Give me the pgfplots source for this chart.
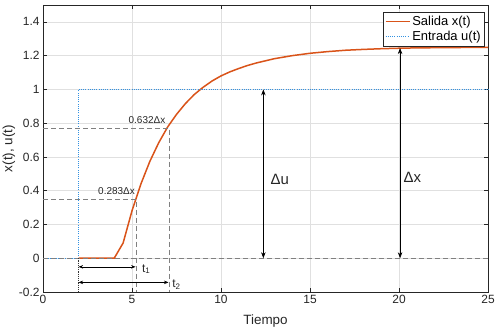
\documentclass[border=0pt]{standalone}
\usepackage{pgfplots}
\pgfplotsset{compat=1.18}
\usepackage{fontspec}
\setmainfont{Liberation Sans}
\usetikzlibrary{arrows.meta}
\definecolor{morange}{RGB}{217,83,25}
\definecolor{mblue}{RGB}{50,145,225}
\definecolor{axgray}{RGB}{38,38,38}
\begin{document}
\begin{tikzpicture}
\begin{axis}[
  width=445bp, height=287bp, scale only axis,
  xmin=0, xmax=25, ymin=-0.2, ymax=1.5,
  xtick={0,5,10,15,20,25},
  xticklabels={0,5,10,15,20,25},
  ytick={-0.2,0,0.2,0.4,0.6,0.8,1,1.2,1.4},
  yticklabels={-0.2,0,0.2,0.4,0.6,0.8,1,1.2,1.4},
  /pgf/number format/assume math mode=true,
  grid=major, grid style={black!12, line width=0.5bp},
  tick align=inside, major tick length=4bp,
  axis line style={axgray, line width=0.6bp},
  tick style={axgray, line width=0.6bp},
  ticklabel style={font=\fontsize{12}{14}\selectfont, text=axgray},
  xlabel={Tiempo}, ylabel={x(t), u(t)},
  label style={font=\fontsize{13.5}{15}\selectfont, text=axgray},
  xlabel style={at={(axis description cs:0.5,0)}, anchor=base, yshift=-32bp},
  ylabel style={at={([xshift=-34bp]axis description cs:0,0.5)}, anchor=center},
  legend style={at={(0.993,0.976)}, anchor=north east, draw=axgray,
    font=\fontsize{13}{14}\selectfont, inner sep=2bp, row sep=0.5bp},
  legend cell align=left,
  clip=false,
]
\addplot[morange, line width=1.5bp,
  legend image code/.code={\draw[morange, line width=1.5bp] (0bp,0bp) -- (24bp,0bp);}] coordinates {
 (2,0) (4,0) (4.5,0.09) (5,0.281) (5.5,0.44) (6,0.573) (6.5,0.684) (7,0.777)
 (7.5,0.852) (8,0.916) (8.5,0.970) (9,1.013) (9.5,1.050) (10,1.080) (10.5,1.104)
 (11,1.124) (11.5,1.142) (12,1.157) (13,1.182) (14,1.200) (15,1.214) (16,1.224)
 (17,1.232) (18,1.237) (19,1.241) (20,1.244) (21,1.246) (22,1.247) (23,1.248) (25,1.249)
};
\addlegendentry{Salida x(t)}
\addplot[mblue, line width=1.2bp, dash pattern=on 1.1bp off 1.1bp,
  legend image code/.code={\draw[mblue, line width=1.2bp, dash pattern=on 1.1bp off 1.1bp] (0bp,0bp) -- (24bp,0bp);}] coordinates {
 (0,0) (2,0) (2,1) (25,1)
};
\addlegendentry{Entrada u(t)}
% annotation lines
\draw[gray, dashed, dash pattern=on 5bp off 3bp, line width=0.6bp] (axis cs:0,0) -- (axis cs:25,0);
\draw[gray, dashed, dash pattern=on 5bp off 3bp, line width=0.6bp] (axis cs:0,0.772) -- (axis cs:7.1,0.772) -- (axis cs:7.1,-0.2);
\draw[gray, dashed, dash pattern=on 5bp off 3bp, line width=0.6bp] (axis cs:0,0.351) -- (axis cs:5.24,0.351) -- (axis cs:5.24,-0.2);
\draw[black!80, line width=1.2bp, dash pattern=on 1.1bp off 1.1bp] (axis cs:2,0) -- (axis cs:2,-0.2);
\draw[black, line width=0.6bp, {Stealth[length=4.5bp,width=3.5bp]}-{Stealth[length=4.5bp,width=3.5bp]}] (axis cs:2,-0.051) -- (axis cs:5.2,-0.051);
\draw[black, line width=0.6bp, {Stealth[length=4.5bp,width=3.5bp]}-{Stealth[length=4.5bp,width=3.5bp]}] (axis cs:2,-0.143) -- (axis cs:7.05,-0.143);
\draw[black, line width=0.7bp, {Stealth[length=6bp,width=4.5bp]}-{Stealth[length=6bp,width=4.5bp]}] (axis cs:12.38,0) -- (axis cs:12.38,1);
\draw[black, line width=0.7bp, {Stealth[length=6bp,width=4.5bp]}-{Stealth[length=6bp,width=4.5bp]}] (axis cs:20.06,0) -- (axis cs:20.06,1.245);
\node[font=\fontsize{10}{11}\selectfont, text=axgray] at (axis cs:5.84,0.818) {0.632Δx};
\node[font=\fontsize{10}{11}\selectfont, text=axgray] at (axis cs:4.13,0.396) {0.283Δx};
\node[font=\fontsize{12}{13}\selectfont, text=axgray] at (axis cs:5.8,-0.065) {t\textsubscript{1}};
\node[font=\fontsize{12}{13}\selectfont, text=axgray] at (axis cs:7.5,-0.155) {t\textsubscript{2}};
\node[font=\fontsize{15}{16}\selectfont, text=axgray] at (axis cs:13.3,0.465) {Δu};
\node[font=\fontsize{15}{16}\selectfont, text=axgray] at (axis cs:20.75,0.478) {Δx};
\end{axis}
\pgfresetboundingbox
\path ([shift={(-43bp,-35bp)}]current axis.south west) rectangle ([shift={(7bp,5bp)}]current axis.north east);
\end{tikzpicture}
\end{document}
